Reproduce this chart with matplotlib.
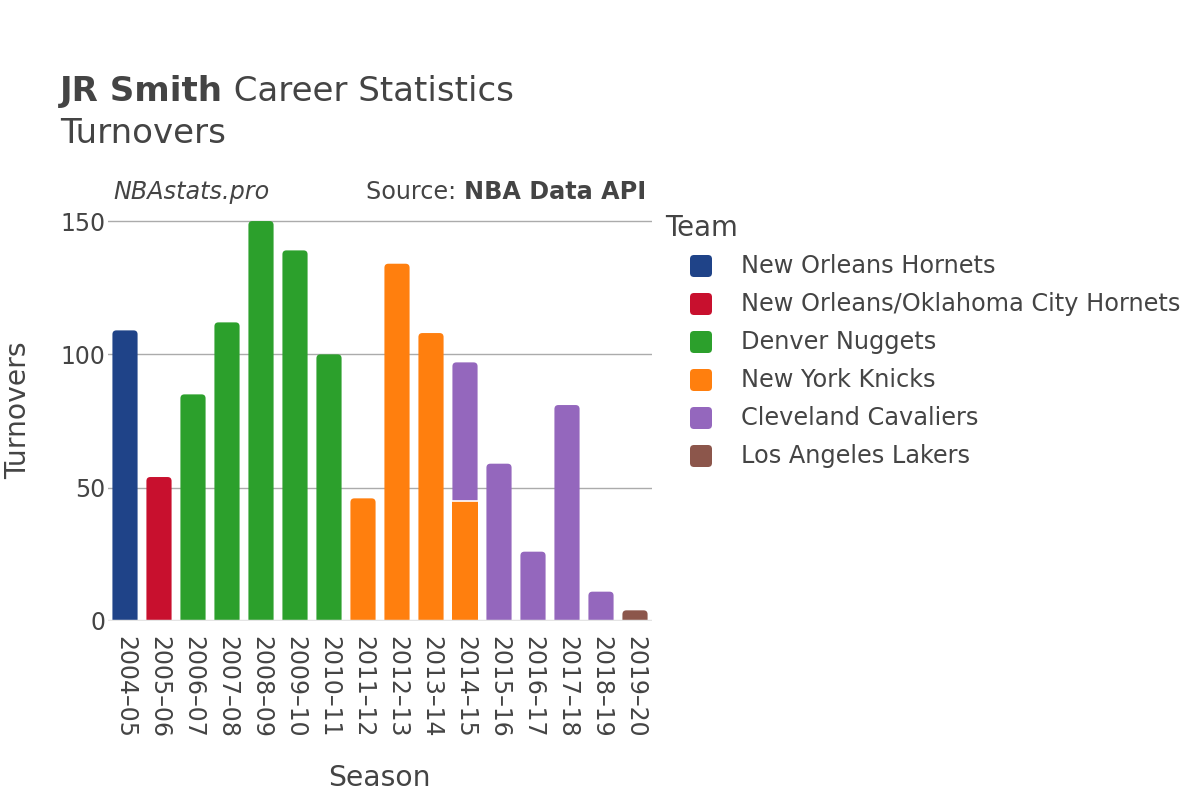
import matplotlib
matplotlib.use("Agg")
import matplotlib.pyplot as plt
from matplotlib.patches import FancyBboxPatch

plt.rcParams['font.family'] = ['DejaVu Sans']

# ---- data ----
seasons = ['2004–05', '2005–06', '2006–07', '2007–08', '2008–09', '2009–10',
           '2010–11', '2011–12', '2012–13', '2013–14', '2014–15', '2015–16',
           '2016–17', '2017–18', '2018–19', '2019–20']
teams = ['New Orleans Hornets', 'New Orleans/Oklahoma City Hornets',
         'Denver Nuggets', 'New York Knicks', 'Cleveland Cavaliers',
         'Los Angeles Lakers']
team_colors = ['#1f4388', '#c8102e', '#2ca02c', '#ff7f0e', '#9467bd', '#8c564b']

# one entry per (season, team) segment, stacked in order
seg_season = ['2004–05', '2005–06', '2006–07', '2007–08', '2008–09', '2009–10',
              '2010–11', '2011–12', '2012–13', '2013–14', '2014–15', '2014–15',
              '2015–16', '2016–17', '2017–18', '2018–19', '2019–20']
seg_team = ['New Orleans Hornets', 'New Orleans/Oklahoma City Hornets',
            'Denver Nuggets', 'Denver Nuggets', 'Denver Nuggets', 'Denver Nuggets',
            'Denver Nuggets', 'New York Knicks', 'New York Knicks', 'New York Knicks',
            'New York Knicks', 'Cleveland Cavaliers', 'Cleveland Cavaliers',
            'Cleveland Cavaliers', 'Cleveland Cavaliers', 'Cleveland Cavaliers',
            'Los Angeles Lakers']
seg_turnovers = [109, 54, 85, 112, 150, 139, 100, 46, 134, 108, 45, 52, 59, 26, 81, 11, 4]

TEXT = '#444444'
fig = plt.figure(figsize=(12, 8), dpi=100)
ax = fig.add_axes([108 / 1200, 1 - 621 / 800, 544 / 1200, 421 / 800])
ymax = 157.9
ax.set_xlim(-0.5, len(seasons) - 0.5)
ax.set_ylim(0, ymax)

bar_w = 0.74
# rounding: x-units per px vs y-units per px
px_x = len(seasons) / 544
px_y = ymax / 421
aspect = px_y / px_x
r = 4 * px_x

bottoms = {s: 0 for s in seasons}
tops = {}
for s, v in zip(seg_season, seg_turnovers):
    tops[s] = tops.get(s, 0) + v

for s, t, v in zip(seg_season, seg_team, seg_turnovers):
    xi = seasons.index(s)
    col = team_colors[teams.index(t)]
    b = bottoms[s]
    if b + v >= tops[s]:
        # top segment: rounded top corners, bottom hidden below/behind
        ext = 4
        p = FancyBboxPatch((xi - bar_w / 2, b - ext), bar_w, v + ext,
                           boxstyle=f"round,pad=0,rounding_size={r}",
                           mutation_aspect=aspect, facecolor=col,
                           edgecolor='none', zorder=2)
        ax.add_patch(p)
    else:
        ax.bar(xi, v, bottom=b, width=bar_w, color=col, zorder=3)
        ax.hlines(b + v, xi - bar_w / 2, xi + bar_w / 2, color='white', lw=1.2, zorder=4)
    bottoms[s] = b + v

for sp in ax.spines.values():
    sp.set_visible(False)
ax.set_yticks([0, 50, 100, 150])
ax.set_yticklabels(['0', '50', '100', '150'])
for gy in [50, 100, 150]:
    ax.axhline(gy, color='#ababab', lw=1, zorder=1)
ax.axhline(0, color='#e4e4e4', lw=2.5, zorder=5)
ax.set_xticks(range(len(seasons)))
ax.set_xticklabels(seasons, rotation=270, va='top', ha='center')
ax.tick_params(axis='both', length=0, labelsize=17, labelcolor=TEXT)
ax.tick_params(axis='x', pad=11)
ax.tick_params(axis='y', pad=2)

# axis titles
fig.text(18 / 1200, 1 - 410 / 800, 'Turnovers', rotation=90, ha='center', va='center',
         fontsize=20.3, color=TEXT)
fig.text(379 / 1200, 1 - 778 / 800, 'Season', ha='center', va='center',
         fontsize=20.3, color=TEXT)

# title
fig.canvas.draw()
rend = fig.canvas.get_renderer()
t1 = fig.text(60 / 1200, 1 - 101 / 800, 'JR Smith', fontsize=24.5, fontweight='bold',
              color=TEXT, va='baseline')
bb = t1.get_window_extent(rend)
fig.text(bb.x1 / 1200, 1 - 101 / 800, ' Career Statistics', fontsize=24.5,
         color=TEXT, va='baseline')
fig.text(60 / 1200, 1 - 143 / 800, 'Turnovers', fontsize=24.5, color=TEXT, va='baseline')

# source line
fig.text(113 / 1200, 1 - 199 / 800, 'NBAstats.pro', fontsize=17.2, style='italic',
         color=TEXT, va='baseline')
s2 = fig.text(646 / 1200, 1 - 199 / 800, 'NBA Data API', fontsize=17.2, fontweight='bold',
              color=TEXT, va='baseline', ha='right')
bb2 = s2.get_window_extent(rend)
fig.text(bb2.x0 / 1200, 1 - 199 / 800, 'Source: ', fontsize=17.2, color=TEXT,
         va='baseline', ha='right')

# legend
fig.text(665 / 1200, 1 - 236 / 800, 'Team', fontsize=19.8, color=TEXT, va='baseline')
for i, (t, c) in enumerate(zip(teams, team_colors)):
    yc = 266 + 38 * i
    sq = 22
    fig.patches.append(FancyBboxPatch(((701 - sq / 2) / 1200, 1 - (yc + sq / 2) / 800),
                                      sq / 1200, sq / 800,
                                      boxstyle=f"round,pad=0,rounding_size={4 / 1200}",
                                      mutation_aspect=1200 / 800,
                                      transform=fig.transFigure, facecolor=c,
                                      edgecolor='none'))
    fig.text(741 / 1200, 1 - yc / 800, t, fontsize=17.3, color=TEXT, va='center')

fig.savefig('out.png', dpi=100)
